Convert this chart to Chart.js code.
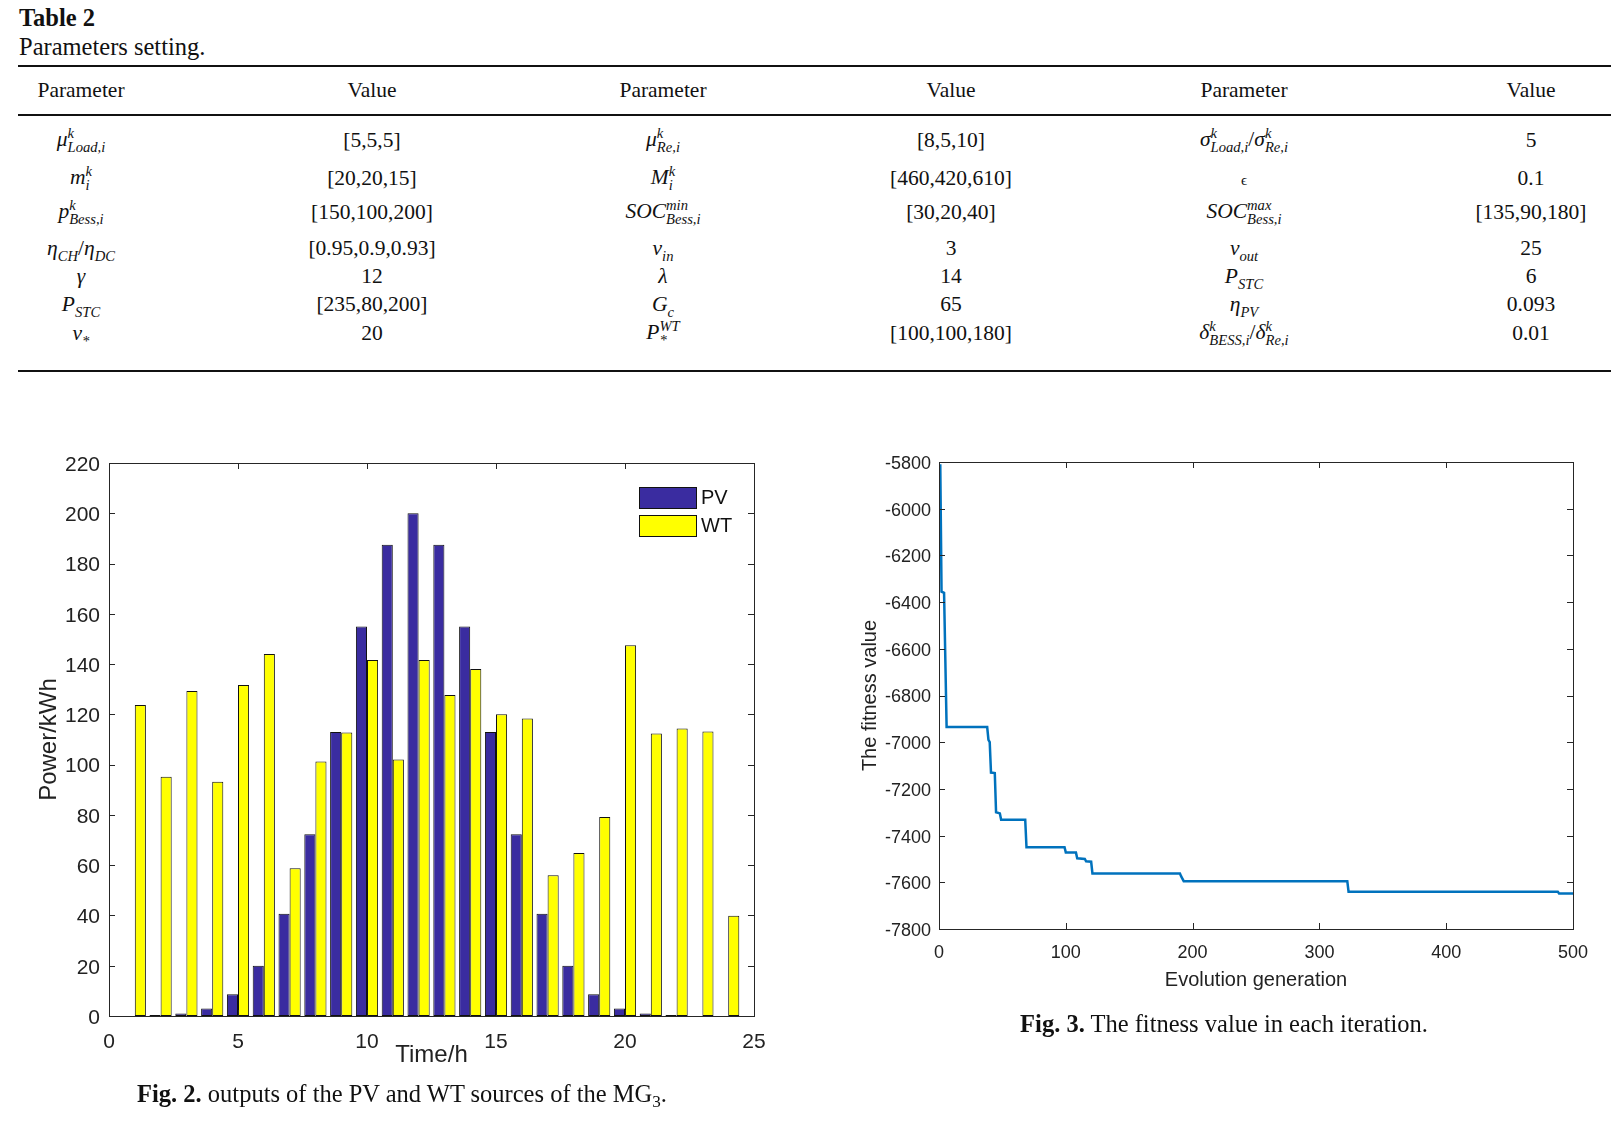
<!DOCTYPE html>
<html>
<head>
<meta charset="utf-8">
<script src="https://cdn.jsdelivr.net/npm/chart.js@4.4.0/dist/chart.umd.min.js"></script>
<style>
body { margin: 0; background: #fff; width: 1611px; height: 1123px; position: relative; overflow: hidden;
       font-family: "Liberation Serif", "Times New Roman", serif; color: #111; }
.abs { position: absolute; white-space: nowrap; }
.rule { position: absolute; left: 18px; right: 0; height: 2px; background: #111; }
.cell { position: absolute; transform: translate(-50%, -50%); font-size: 21.5px; line-height: 1; white-space: nowrap; }
.cell sub, .cell sup { font-size: 0.68em; line-height: 0; }
.ss { display: inline-flex; flex-direction: column; vertical-align: 0.55em; font-size: 0.68em; line-height: 0.95; font-style: italic; text-align: left; }
.leg { position: absolute; font-family: "Liberation Sans", Arial, sans-serif; font-size: 20px; color: #111; }
.sw { position: absolute; width: 56px; height: 20px; border: 1px solid #111; }
canvas { position: absolute; }
</style>
</head>
<body>
<div class="abs" style="left:19px;top:4px;font-size:24.5px;font-weight:bold;">Table 2</div>
<div class="abs" style="left:19px;top:33px;font-size:24.5px;">Parameters setting.</div>
<div class="rule" style="top:65px"></div>
<div class="rule" style="top:114px"></div>
<div class="rule" style="top:370px"></div>
<div id="table"></div>

<canvas id="barChart" width="790" height="640" style="left:0;top:440px"></canvas>
<div class="sw" style="left:639px;top:487px;background:#3a2ca0"></div>
<div class="sw" style="left:639px;top:515px;background:#ffff00"></div>
<div class="leg" style="left:701px;top:486px">PV</div>
<div class="leg" style="left:701px;top:514px">WT</div>

<canvas id="lineChart" width="791" height="610" style="left:820px;top:440px"></canvas>

<div class="abs" style="left:402px;top:1096px;transform:translate(-50%,-50%);font-size:24.5px;"><b>Fig. 2.</b> outputs of the PV and WT sources of the MG<sub style="font-size:0.7em">3</sub>.</div>
<div class="abs" style="left:1224px;top:1024px;transform:translate(-50%,-50%);font-size:24.5px;"><b>Fig. 3.</b> The fitness value in each iteration.</div>

<script>
// math symbol helper: base letter with optional stacked sup/sub
const m = (base, sup, sub) => {
    let s = '<i>' + base + '</i>';
    if (sup && sub) s += '<span class="ss"><span>' + sup + '</span><span>' + sub + '</span></span>';
    else if (sub) s += '<sub><i>' + sub + '</i></sub>';
    else if (sup) s += '<sup><i>' + sup + '</i></sup>';
    return s;
}

// table content
const headers = ['Parameter', 'Value', 'Parameter', 'Value', 'Parameter', 'Value'];
const paramsA = [m('μ', 'k', 'Load,i'), m('m', 'k', 'i'), m('p', 'k', 'Bess,i'), m('η', '', 'CH') + '/' + m('η', '', 'DC'), m('γ'), m('P', '', 'STC'), m('v', '', '*')];
const valuesA = ['[5,5,5]', '[20,20,15]', '[150,100,200]', '[0.95,0.9,0.93]', '12', '[235,80,200]', '20'];
const paramsB = [m('μ', 'k', 'Re,i'), m('M', 'k', 'i'), m('SOC', 'min', 'Bess,i'), m('v', '', 'in'), m('λ'), m('G', '', 'c'), m('P', 'WT', '*')];
const valuesB = ['[8,5,10]', '[460,420,610]', '[30,20,40]', '3', '14', '65', '[100,100,180]'];
const paramsC = [m('σ', 'k', 'Load,i') + '/' + m('σ', 'k', 'Re,i'), '<span style="font-size:0.7em">ϵ</span>', m('SOC', 'max', 'Bess,i'), m('v', '', 'out'), m('P', '', 'STC'), m('η', '', 'PV'), m('δ', 'k', 'BESS,i') + '/' + m('δ', 'k', 'Re,i')];
const valuesC = ['5', '0.1', '[135,90,180]', '25', '6', '0.093', '0.01'];

// Fig. 2 data
const hours = [1, 2, 3, 4, 5, 6, 7, 8, 9, 10, 11, 12, 13, 14, 15, 16, 17, 18, 19, 20, 21, 22, 23, 24];
const pvOutput = [0, 0.4, 1, 3, 8.7, 20, 40.7, 72.3, 113, 155, 187.5, 200, 187.5, 155, 113, 72.3, 40.7, 20, 8.7, 3, 1, 0.4, 0, 0];
const wtOutput = [123.7, 95.2, 129.3, 93.2, 131.7, 144, 58.8, 101.2, 112.8, 141.6, 102, 141.6, 127.7, 138, 120, 118.4, 56, 64.8, 79.2, 147.5, 112.4, 114.4, 113.2, 39.9];

// Fig. 3 data (corners of the convergence curve)
const generations = [1, 2, 4, 6, 38, 39, 40, 41, 44, 45, 48, 49, 68, 69, 99, 100, 108, 109, 115, 116, 120, 121, 190, 191, 193, 322, 323, 488, 489, 500];
const fitness = [-5810, -6355, -6360, -6935, -6935, -6990, -7000, -7130, -7132, -7300, -7305, -7332, -7332, -7450, -7450, -7472, -7472, -7497, -7500, -7510, -7512, -7562, -7562, -7575, -7595, -7595, -7640, -7640, -7648, -7648];

const colX = [81, 372, 663, 951, 1244, 1531];
const rowY = [141, 179, 213, 249, 277, 305, 334];

const buildTable = () => {
    const t = document.getElementById('table');
    let html = '';
    headers.forEach((h, i) => {
        html += `<div class="cell" style="left:${colX[i]}px;top:91px">${h}</div>`;
    });
    const cols = [paramsA, valuesA, paramsB, valuesB, paramsC, valuesC];
    cols.forEach((col, ci) => {
        col.forEach((txt, ri) => {
            html += `<div class="cell" style="left:${colX[ci]}px;top:${rowY[ri]}px">${txt}</div>`;
        });
    });
    t.innerHTML = html;
}
buildTable();

Chart.defaults.font.family = '"Liberation Sans", Arial, sans-serif';
Chart.defaults.color = '#222';

// matlab-like box with inward ticks
const boxTicks = {
    id: 'boxTicks',
    afterDatasetsDraw(chart) {
        const {ctx, chartArea: a, scales: {x, y}} = chart;
        const L = 6;
        ctx.save();
        ctx.strokeStyle = '#262626';
        ctx.lineWidth = 1;
        ctx.beginPath();
        x.ticks.forEach((t) => {
            const px = Math.round(x.getPixelForValue(t.value)) + 0.5;
            ctx.moveTo(px, a.bottom); ctx.lineTo(px, a.bottom - L);
            ctx.moveTo(px, a.top); ctx.lineTo(px, a.top + L);
        });
        y.ticks.forEach((t) => {
            const py = Math.round(y.getPixelForValue(t.value)) + 0.5;
            ctx.moveTo(a.left, py); ctx.lineTo(a.left + L, py);
            ctx.moveTo(a.right, py); ctx.lineTo(a.right - L, py);
        });
        ctx.stroke();
        ctx.strokeRect(Math.round(a.left) + 0.5, Math.round(a.top) + 0.5, Math.round(a.right - a.left), Math.round(a.bottom - a.top));
        ctx.restore();
    }
}

const barCtx = document.getElementById('barChart').getContext('2d');
new Chart(barCtx, {
    type: 'bar',
    data: {
        datasets: [
            { label: 'PV', data: hours.map((h, i) => ({x: h, y: pvOutput[i]})), backgroundColor: '#3a2ca0', borderColor: '#111', borderWidth: 1, borderSkipped: false },
            { label: 'WT', data: hours.map((h, i) => ({x: h, y: wtOutput[i]})), backgroundColor: '#ffff00', borderColor: '#111', borderWidth: 1, borderSkipped: false }
        ]
    },
    options: {
        responsive: false,
        animation: false,
        categoryPercentage: 0.86,
        barPercentage: 1,
        layout: { padding: { top: 23, right: 36, left: 0, bottom: 0 } },
        plugins: { legend: { display: false }, tooltip: { enabled: false } },
        scales: {
            x: {
                type: 'linear', min: 0, max: 25, offset: false,
                grid: { display: false, drawTicks: false, offset: false },
                border: { display: false },
                ticks: { stepSize: 5, padding: 14, font: { size: 21 }, color: '#222' },
                title: { display: true, text: 'Time/h', font: { size: 24 }, color: '#222', padding: { top: 0, bottom: 10 } },
                afterFit: (s) => { s.height = 64; }
            },
            y: {
                min: 0, max: 220,
                grid: { display: false, drawTicks: false },
                border: { display: false },
                ticks: { stepSize: 20, padding: 9, labelOffset: 2, font: { size: 21 }, color: '#222' },
                title: { display: true, text: 'Power/kWh', font: { size: 24 }, color: '#222', padding: { top: 35, bottom: 0 } },
                afterFit: (s) => { s.width = 109; }
            }
        }
    },
    plugins: [boxTicks]
});

const lineCtx = document.getElementById('lineChart').getContext('2d');
new Chart(lineCtx, {
    type: 'line',
    data: {
        datasets: [{
            label: 'fitness',
            data: generations.map((g, i) => ({x: g, y: fitness[i]})),
            borderColor: '#0072BD',
            borderWidth: 2.5,
            pointRadius: 0,
            tension: 0,
            fill: false
        }]
    },
    options: {
        responsive: false,
        animation: false,
        layout: { padding: { top: 22, right: 38, left: 0, bottom: 0 } },
        plugins: { legend: { display: false }, tooltip: { enabled: false } },
        scales: {
            x: {
                type: 'linear', min: 0, max: 500,
                grid: { display: false, drawTicks: false },
                border: { display: false },
                ticks: { stepSize: 100, padding: 13, font: { size: 18 }, color: '#222' },
                title: { display: true, text: 'Evolution generation', font: { size: 20 }, color: '#222', padding: { top: 0, bottom: 58 } },
                afterFit: (s) => { s.height = 121; }
            },
            y: {
                min: -7800, max: -5800,
                grid: { display: false, drawTicks: false },
                border: { display: false },
                ticks: { stepSize: 200, padding: 8, labelOffset: 2, font: { size: 18 }, color: '#222', callback: (v) => String(v) },
                title: { display: true, text: 'The fitness value', font: { size: 20 }, color: '#222', padding: { top: 38, bottom: 0 } },
                afterFit: (s) => { s.width = 119; }
            }
        }
    },
    plugins: [boxTicks]
});
</script>
</body>
</html>
